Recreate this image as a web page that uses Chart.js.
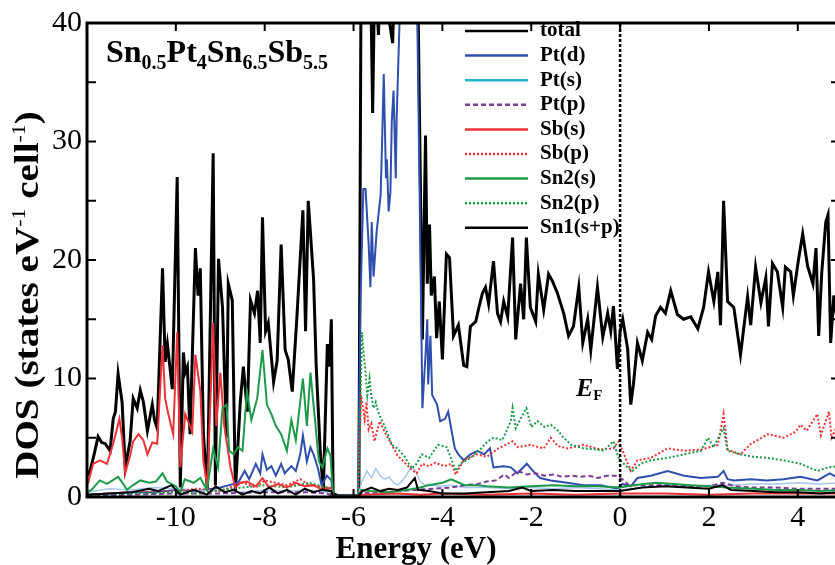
<!DOCTYPE html>
<html>
<head>
<meta charset="utf-8">
<title>DOS of Sn0.5Pt4Sn6.5Sb5.5</title>
<script src="https://cdn.jsdelivr.net/npm/chart.js@4.4.1/dist/chart.umd.min.js"></script>
<style>
  html, body { margin: 0; padding: 0; background: #fff; overflow: hidden; }
  #wrap { width: 835px; height: 565px; overflow: hidden; }
  canvas { display: block; }
</style>
</head>
<body>
<div id="wrap"><canvas id="dos" width="840" height="565"></canvas></div>
<script>
// Density of states, [energy (eV), states eV-1 cell-1]
const totalDos = [
  [-12.00,1.8],[-11.93,2.2],[-11.84,3.6],[-11.75,5.1],[-11.67,4.6],[-11.59,4.5],[-11.48,3.9],[-11.41,6.6],[-11.36,7.2],
  [-11.30,10.4],[-11.21,8.0],[-11.14,2.5],[-11.03,4.7],[-10.96,8.3],[-10.87,7.5],[-10.80,9.0],[-10.73,8.0],[-10.64,5.6],
  [-10.53,7.8],[-10.48,6.5],[-10.42,5.8],[-10.30,19.3],[-10.24,11.4],[-10.19,12.9],[-10.08,9.1],[-9.97,27.0],[-9.90,0.8],
  [-9.83,12.2],[-9.79,10.5],[-9.74,11.0],[-9.68,5.3],[-9.56,21.0],[-9.50,17.0],[-9.45,19.3],[-9.38,5.3],[-9.29,0.6],
  [-9.16,29.0],[-9.11,1.0],[-9.04,20.1],[-8.95,16.0],[-8.86,5.0],[-8.82,18.0],[-8.73,16.6],[-8.66,0.5],[-8.55,8.0],
  [-8.48,11.0],[-8.39,7.2],[-8.32,16.6],[-8.23,15.5],[-8.16,17.4],[-8.10,13.0],[-8.05,23.6],[-7.98,14.0],[-7.92,14.7],
  [-7.80,9.7],[-7.72,11.5],[-7.63,21.3],[-7.54,12.4],[-7.47,11.6],[-7.38,8.9],[-7.27,15.5],[-7.14,24.2],[-7.08,14.0],
  [-7.02,25.0],[-6.90,18.4],[-6.84,11.0],[-6.75,3.9],[-6.68,0.5],[-6.59,12.9],[-6.54,11.0],[-6.50,15.0],[-6.46,0.3],
  [-6.35,0.1],[-5.88,0.1],[-5.83,45],[-5.62,45],[-5.57,32.4],[-5.52,45],[-5.44,39.0],[-5.39,45],[-5.12,38.3],[-5.07,45],
  [-4.56,45],[-4.45,13.3],[-4.38,30.5],[-4.34,18.0],[-4.29,23.0],[-4.25,17.0],[-4.18,18.6],[-4.13,13.4],[-4.07,16.5],
  [-4.00,11.6],[-3.91,20.5],[-3.84,20.2],[-3.75,13.6],[-3.64,14.5],[-3.52,11.1],[-3.45,11.0],[-3.37,14.4],[-3.25,14.8],
  [-3.19,15.8],[-3.10,17.2],[-3.03,17.7],[-2.96,16.3],[-2.85,19.9],[-2.76,15.5],[-2.69,14.8],[-2.62,16.5],[-2.53,15.2],
  [-2.42,21.9],[-2.35,13.3],[-2.24,18.0],[-2.17,15.0],[-2.11,21.9],[-2.02,16.0],[-1.90,14.8],[-1.84,18.8],[-1.72,15.8],
  [-1.61,18.8],[-1.52,18.2],[-1.41,17.2],[-1.27,15.5],[-1.16,13.6],[-1.05,14.4],[-0.93,17.7],[-0.84,13.0],[-0.73,15.0],
  [-0.66,12.4],[-0.51,17.7],[-0.39,13.5],[-0.28,15.5],[-0.21,14.0],[-0.15,16.1],[-0.06,10.8],[0.00,14.0],[0.06,15.0],
  [0.17,12.5],[0.24,7.8],[0.30,9.5],[0.39,13.0],[0.50,11.5],[0.62,13.9],[0.71,13.3],[0.80,15.3],[0.91,16.0],[1.02,15.5],
  [1.14,17.4],[1.29,15.4],[1.43,15.0],[1.59,15.2],[1.75,14.2],[1.88,16.0],[1.99,19.0],[2.11,16.5],[2.20,19.0],[2.26,14.5],
  [2.33,25.0],[2.42,16.5],[2.56,16.0],[2.71,12.0],[2.87,16.9],[2.94,14.5],[3.05,19.4],[3.17,16.4],[3.28,18.5],[3.34,14.4],
  [3.43,19.7],[3.54,19.0],[3.66,16.0],[3.72,19.4],[3.84,19.0],[3.90,17.0],[4.01,19.9],[4.11,22.2],[4.22,19.5],[4.34,18.0],
  [4.41,21.0],[4.47,13.6],[4.54,19.0],[4.63,23.2],[4.68,23.8],[4.74,13.0],[4.81,17.0],[4.88,15.0],[4.95,16.0]
];
const ptD = [
  [-12.0,0.2],[-11.5,0.3],[-11.0,0.4],[-10.5,0.4],[-10.0,0.6],[-9.5,0.5],[-9.0,0.8],[-8.8,1.0],[-8.6,1.2],[-8.45,2.2],
  [-8.35,1.5],[-8.2,2.8],[-8.1,2.0],[-8.05,3.6],[-7.95,2.3],[-7.85,2.6],[-7.75,1.8],[-7.63,2.8],[-7.55,2.0],[-7.4,2.6],
  [-7.3,2.2],[-7.2,3.6],[-7.14,5.2],[-7.05,3.0],[-6.97,4.2],[-6.9,3.6],[-6.8,2.4],[-6.72,1.0],[-6.6,1.8],[-6.5,1.4],
  [-6.46,0.1],[-5.90,0.1],[-5.84,17.0],[-5.78,26.0],[-5.73,26.0],[-5.66,21.3],[-5.62,17.7],[-5.59,23.2],[-5.55,18.6],
  [-5.48,22.4],[-5.39,25.5],[-5.36,29.6],[-5.32,35.7],[-5.27,26.9],[-5.25,28.5],[-5.21,24.1],[-5.17,25.7],[-5.14,31.6],
  [-5.10,34.3],[-5.05,26.9],[-5.03,31.9],[-4.95,42],[-4.58,45],[-4.45,7.5],[-4.38,12.0],[-4.34,15.0],[-4.32,9.5],
  [-4.27,13.6],[-4.23,8.6],[-4.12,7.8],[-4.05,6.4],[-3.94,6.6],[-3.87,7.2],[-3.78,5.3],[-3.72,4.1],[-3.64,3.6],
  [-3.52,3.1],[-3.37,3.6],[-3.21,3.9],[-3.06,3.6],[-2.93,4.1],[-2.85,2.5],[-2.62,2.6],[-2.46,2.5],[-2.31,2.0],[-2.10,2.8],
  [-1.96,2.2],[-1.80,1.6],[-1.56,1.4],[-1.19,1.2],[-0.82,1.0],[-0.44,1.0],[-0.06,0.7],[0.05,1.1],[0.24,0.9],[0.39,1.6],
  [0.69,1.8],[1.07,2.2],[1.44,1.8],[1.82,1.6],[2.20,1.7],[2.33,2.2],[2.42,1.5],[2.56,1.4],[2.95,1.5],[3.30,1.4],
  [3.68,1.5],[4.06,1.7],[4.44,1.4],[4.72,2.0],[4.95,1.5]
];
const ptS = [
  [-12.0,0.4],[-11.5,0.7],[-11.0,0.6],[-10.5,0.8],[-10.0,0.7],[-9.5,0.6],[-9.0,0.5],[-8.5,0.4],[-8.0,0.6],[-7.5,0.5],
  [-7.0,0.6],[-6.6,0.4],[-6.46,0.05],[-5.90,0.05],[-5.82,1.2],[-5.7,2.2],[-5.6,1.6],[-5.5,2.4],[-5.4,1.8],[-5.3,1.5],
  [-5.2,1.7],[-5.1,1.2],[-5.0,1.0],[-4.9,1.4],[-4.8,1.9],[-4.7,2.6],[-4.6,2.2],[-4.5,1.3],[-4.4,1.0],[-4.3,1.1],
  [-4.1,0.9],[-3.8,1.0],[-3.5,0.8],[-3.0,0.8],[-2.5,0.7],[-2.0,0.8],[-1.5,0.7],[-1.0,0.8],[-0.5,0.7],[0.0,0.6],
  [0.5,0.8],[1.0,0.9],[1.5,0.9],[2.0,1.0],[2.5,1.0],[3.0,1.1],[3.5,1.1],[4.0,1.2],[4.5,1.1],[4.95,1.2]
];
const ptP = [
  [-12.0,0.1],[-11.0,0.2],[-10.0,0.3],[-9.0,0.3],[-8.0,0.4],[-7.0,0.4],[-6.6,0.3],[-6.46,0.05],[-5.90,0.05],[-5.8,0.4],
  [-5.6,0.3],[-5.0,0.5],[-4.6,0.6],[-4.2,0.7],[-3.8,0.8],[-3.5,1.0],[-3.2,1.1],[-3.0,1.3],[-2.8,1.4],[-2.6,1.9],
  [-2.5,1.6],[-2.3,2.2],[-2.1,1.9],[-1.9,2.0],[-1.7,1.8],[-1.5,1.9],[-1.3,1.7],[-1.1,1.8],[-0.9,1.7],[-0.7,1.8],
  [-0.5,1.6],[-0.3,1.8],[-0.1,1.8],[0.05,1.5],[0.2,1.0],[0.5,1.0],[1.0,1.0],[1.5,0.9],[2.0,0.9],[2.3,1.2],[2.6,0.9],
  [3.0,0.8],[3.5,0.8],[4.0,0.7],[4.5,0.7],[4.95,0.7]
];
const sbS = [
  [-11.98,1.1],[-11.86,2.8],[-11.71,3.1],[-11.55,2.8],[-11.41,4.5],[-11.27,6.6],[-11.21,5.0],[-11.14,2.0],[-11.03,3.5],
  [-10.96,4.7],[-10.84,5.3],[-10.73,4.8],[-10.64,3.6],[-10.53,4.6],[-10.42,4.5],[-10.30,12.8],[-10.24,8.3],[-10.17,7.0],
  [-10.06,5.3],[-9.97,13.9],[-9.90,2.5],[-9.79,7.0],[-9.63,5.5],[-9.56,12.0],[-9.45,9.0],[-9.38,3.0],[-9.29,0.8],
  [-9.16,14.7],[-9.09,6.0],[-9.00,10.5],[-8.91,6.0],[-8.77,2.5],[-8.66,0.8],[-8.55,1.2],[-8.4,1.3],[-8.2,0.9],
  [-8.05,1.6],[-7.9,0.8],[-7.7,1.1],[-7.5,0.8],[-7.3,1.2],[-7.1,0.9],[-6.9,1.0],[-6.7,0.6],[-6.5,0.8],[-6.46,0.05],
  [-5.90,0.05],[-5.8,0.2],[-5.0,0.3],[-4.5,0.2],[-4.0,0.3],[-3.0,0.2],[-2.0,0.3],[-1.0,0.2],[0.0,0.3],[1.0,0.3],
  [2.0,0.2],[3.0,0.3],[4.0,0.3],[4.95,0.3]
];
const sbP = [
  [-12.0,0.2],[-11.0,0.4],[-10.0,0.5],[-9.5,0.7],[-9.0,0.5],[-8.5,1.2],[-8.2,0.8],[-8.0,1.4],[-7.5,1.0],[-7.2,1.5],
  [-7.0,1.0],[-6.6,0.8],[-6.46,0.05],[-5.90,0.05],[-5.83,8.6],[-5.75,6.6],[-5.71,8.0],[-5.66,5.7],[-5.60,6.2],
  [-5.53,4.7],[-5.41,6.4],[-5.30,5.5],[-5.14,4.4],[-5.01,3.5],[-4.85,2.9],[-4.69,2.3],[-4.58,2.0],[-4.46,2.8],
  [-4.30,2.6],[-4.16,2.9],[-3.95,2.6],[-3.80,2.8],[-3.70,1.9],[-3.52,3.1],[-3.23,3.6],[-3.00,3.4],[-2.74,4.1],
  [-2.42,4.7],[-2.30,4.2],[-2.02,4.4],[-1.72,4.1],[-1.56,5.0],[-1.40,4.3],[-1.18,4.1],[-0.82,4.4],[-0.44,4.0],
  [-0.15,4.1],[-0.03,4.7],[0.10,3.5],[0.24,2.2],[0.39,3.1],[0.69,3.3],[1.07,4.1],[1.44,3.9],[1.82,4.0],[2.20,4.4],
  [2.33,7.0],[2.42,4.0],[2.71,3.6],[2.95,4.5],[3.32,5.3],[3.68,5.0],[3.95,5.5],[4.06,6.1],[4.20,5.6],[4.44,7.0],
  [4.52,5.2],[4.70,7.2],[4.76,5.0],[4.95,6.5]
];
const sn2S = [
  [-12.0,0.4],[-11.9,0.6],[-11.71,1.4],[-11.55,1.1],[-11.3,1.7],[-11.2,1.2],[-11.1,0.6],[-11.0,0.9],[-10.8,1.4],
  [-10.6,1.2],[-10.45,1.3],[-10.3,2.0],[-10.2,1.3],[-10.0,0.9],[-9.9,0.3],[-9.8,1.5],[-9.6,1.2],[-9.45,1.6],[-9.3,0.6],
  [-9.16,4.1],[-9.05,2.5],[-8.95,7.5],[-8.86,7.8],[-8.80,3.9],[-8.7,3.6],[-8.6,4.2],[-8.5,3.9],[-8.4,8.9],[-8.3,6.5],
  [-8.17,8.3],[-8.05,12.4],[-7.95,7.8],[-7.85,7.0],[-7.75,6.0],[-7.63,5.3],[-7.5,3.9],[-7.4,6.5],[-7.3,4.8],
  [-7.14,10.0],[-7.05,6.0],[-6.97,10.5],[-6.88,7.0],[-6.78,3.0],[-6.70,2.5],[-6.59,4.1],[-6.52,3.5],[-6.46,0.05],
  [-5.90,0.05],[-5.82,0.6],[-5.6,0.5],[-5.2,0.4],[-4.8,0.6],[-4.5,0.8],[-4.3,1.0],[-4.0,1.2],[-3.8,1.5],[-3.5,1.0],
  [-3.2,1.0],[-3.0,0.9],[-2.5,0.8],[-2.0,0.9],[-1.5,1.0],[-1.0,0.9],[-0.5,0.9],[0.0,0.8],[0.3,1.0],[0.8,1.2],
  [1.2,1.1],[1.6,1.0],[2.0,0.9],[2.4,0.8],[3.0,0.7],[3.5,0.6],[4.0,0.6],[4.5,0.5],[4.95,0.6]
];
const sn2P = [
  [-12.0,0.2],[-11.0,0.3],[-10.0,0.4],[-9.5,0.3],[-9.0,0.6],[-8.5,0.8],[-8.0,1.0],[-7.5,0.8],[-7.0,1.2],[-6.6,0.8],
  [-6.46,0.05],[-5.90,0.05],[-5.84,9.0],[-5.81,13.9],[-5.77,12.0],[-5.73,10.5],[-5.69,8.6],[-5.64,10.0],[-5.60,8.5],
  [-5.55,7.5],[-5.50,8.0],[-5.45,7.2],[-5.38,6.6],[-5.30,6.0],[-5.14,4.4],[-5.01,4.1],[-4.85,3.4],[-4.69,2.4],
  [-4.58,2.8],[-4.46,3.6],[-4.30,3.3],[-4.10,4.4],[-3.90,4.2],[-3.84,3.6],[-3.70,2.2],[-3.60,2.8],[-3.37,3.3],
  [-3.13,4.1],[-2.98,4.7],[-2.85,5.0],[-2.65,4.8],[-2.46,6.4],[-2.42,7.5],[-2.35,5.8],[-2.20,6.9],[-2.11,7.5],
  [-2.00,5.9],[-1.86,6.4],[-1.70,5.9],[-1.56,6.1],[-1.40,5.6],[-1.27,5.0],[-1.10,4.4],[-0.82,4.1],[-0.50,4.0],
  [-0.37,3.9],[-0.15,4.7],[-0.06,3.6],[0.00,3.1],[0.17,2.5],[0.28,2.2],[0.46,2.8],[0.69,3.1],[1.07,3.3],[1.44,3.6],
  [1.82,3.9],[1.98,5.0],[2.10,4.2],[2.33,5.8],[2.42,3.9],[2.71,3.6],[3.00,3.4],[3.32,3.3],[3.68,3.1],[4.06,2.8],
  [4.44,2.2],[4.68,2.5],[4.95,2.6]
];
const sn1SP = [
  [-12.0,0.2],[-11.5,0.3],[-11.0,0.4],[-10.6,0.7],[-10.4,0.5],[-10.1,1.0],[-9.9,0.2],[-9.6,0.6],[-9.3,0.2],[-9.1,0.9],
  [-8.9,0.4],[-8.7,0.6],[-8.5,0.2],[-8.3,0.5],[-8.1,0.3],[-7.9,0.8],[-7.7,0.3],[-7.5,0.6],[-7.3,0.2],[-7.1,0.7],
  [-6.9,0.4],[-6.7,0.6],[-6.5,0.5],[-6.46,0.05],[-5.90,0.05],[-5.8,0.5],[-5.6,0.8],[-5.4,0.5],[-5.2,0.7],[-5.0,0.6],
  [-4.8,0.8],[-4.62,1.6],[-4.55,0.6],[-4.3,0.5],[-4.0,0.3],[-3.5,0.3],[-3.0,0.4],[-2.5,0.5],[-2.2,0.8],[-2.0,0.5],
  [-1.5,0.6],[-1.0,0.5],[-0.5,0.5],[0.0,0.5],[0.5,0.8],[1.0,0.9],[1.5,0.8],[2.0,0.7],[2.3,1.0],[2.5,0.6],[3.0,0.5],
  [3.5,0.4],[4.0,0.4],[4.5,0.3],[4.95,0.4]
];
const fermiLine = [[0, 0], [0, 40]];

const xTickValues = [-10, -8, -6, -4, -2, 0, 2, 4];
const yTickValues = [0, 10, 20, 30, 40];
const yTickMarks = [5, 10, 15, 20, 25, 30, 35];

const SERIF = "'Liberation Serif', 'Times New Roman', serif";
const pts = arr => arr.map(([e, d]) => ({ x: e, y: d }));

function series(label, data, color, width, dash, order, extra) {
  return Object.assign({
    label, data: pts(data), borderColor: color, borderWidth: width,
    borderDash: dash || [], pointRadius: 0, tension: 0, order, fill: false
  }, extra || {});
}

// draws a run of text pieces with their own size/offset (sub- and superscripts)
function drawRuns(ctx, runs, x, y) {
  let cx = x;
  runs.forEach(r => {
    ctx.font = `${r.font} ${r.size}px ${SERIF}`;
    ctx.fillText(r.text, cx, y + (r.dy || 0));
    cx += ctx.measureText(r.text).width;
  });
  return cx - x;
}
function runsWidth(ctx, runs) {
  return runs.reduce((w, r) => {
    ctx.font = `${r.font} ${r.size}px ${SERIF}`;
    return w + ctx.measureText(r.text).width;
  }, 0);
}

const decorations = {
  id: 'decorations',
  afterDatasetsDraw(chart) {
    const { ctx, chartArea: a, scales: { x, y } } = chart;
    ctx.save();
    ctx.strokeStyle = '#000';
    ctx.fillStyle = '#000';

    // frame + inward ticks
    ctx.lineWidth = 3;
    ctx.strokeRect(a.left, a.top, a.right - a.left, a.bottom - a.top);
    ctx.lineWidth = 2;
    ctx.beginPath();
    xTickValues.forEach(v => {
      const px = x.getPixelForValue(v);
      ctx.moveTo(px, a.top); ctx.lineTo(px, a.top + 8);
      ctx.moveTo(px, a.bottom); ctx.lineTo(px, a.bottom - 8);
    });
    yTickMarks.forEach(v => {
      const py = y.getPixelForValue(v);
      ctx.moveTo(a.left, py); ctx.lineTo(a.left + 9, py);
      ctx.moveTo(a.right, py); ctx.lineTo(a.right - 9, py);
    });
    ctx.stroke();

    // axis titles
    ctx.textBaseline = 'alphabetic';
    ctx.textAlign = 'left';
    ctx.font = `bold 31px ${SERIF}`;
    const xt = 'Energy (eV)';
    ctx.fillText(xt, 416 - ctx.measureText(xt).width / 2, 558);

    const yRuns = [
      { text: 'DOS (states eV', font: 'bold', size: 34 },
      { text: '-1', font: 'normal', size: 19, dy: -13 },
      { text: ' cell', font: 'bold', size: 34 },
      { text: '-1', font: 'normal', size: 19, dy: -13 },
      { text: ')', font: 'bold', size: 34 }
    ];
    ctx.save();
    ctx.translate(38, 295);
    ctx.rotate(-Math.PI / 2);
    ctx.scale(1.15, 1);
    drawRuns(ctx, yRuns, -runsWidth(ctx, yRuns) / 2, 0);
    ctx.restore();

    // compound name
    drawRuns(ctx, [
      { text: 'Sn', font: 'bold', size: 32 }, { text: '0.5', font: 'bold', size: 20, dy: 7 },
      { text: 'Pt', font: 'bold', size: 32 }, { text: '4', font: 'bold', size: 20, dy: 7 },
      { text: 'Sn', font: 'bold', size: 32 }, { text: '6.5', font: 'bold', size: 20, dy: 7 },
      { text: 'Sb', font: 'bold', size: 32 }, { text: '5.5', font: 'bold', size: 20, dy: 7 }
    ], 106, 62);

    // Fermi level label
    drawRuns(ctx, [
      { text: 'E', font: 'italic bold', size: 26 },
      { text: 'F', font: 'bold', size: 15, dy: 4 }
    ], 576, 396);

    // legend
    ctx.textBaseline = 'middle';
    chart.data.datasets.filter(d => d.label).forEach((d, i) => {
      const ly = 31 + i * 24.6;
      ctx.beginPath();
      ctx.setLineDash(d.borderDash || []);
      ctx.strokeStyle = d.legendColor || d.borderColor;
      ctx.lineWidth = 2.5;
      ctx.moveTo(465, ly); ctx.lineTo(528, ly);
      ctx.stroke();
      ctx.setLineDash([]);
      ctx.font = `bold 21px ${SERIF}`;
      ctx.fillText(d.label, 540, ly);
    });
    ctx.restore();
  }
};

new Chart(document.getElementById('dos'), {
  type: 'line',
  data: {
    datasets: [
      series('total', totalDos, '#000000', 3, null, 9),
      series('Pt(d)', ptD, '#2f4fae', 2, null, 8),
      series('Pt(s)', ptS, '#a9c8ee', 1.5, null, 7, { legendColor: '#22b4c8' }),
      series('Pt(p)', ptP, '#7b3b98', 2, [5, 3], 6),
      series('Sb(s)', sbS, '#ec3237', 2, null, 3),
      series('Sb(p)', sbP, '#ec3237', 2, [2, 2], 5),
      series('Sn2(s)', sn2S, '#1c9a48', 2, null, 2),
      series('Sn2(p)', sn2P, '#1c9a48', 2, [2, 2], 4),
      series('Sn1(s+p)', sn1SP, '#000000', 2, null, 1),
      series('', fermiLine, '#000000', 2.5, [3, 2], 0)
    ]
  },
  options: {
    responsive: false,
    animation: false,
    events: [],
    layout: { padding: { top: 15, right: 0, bottom: 0, left: 0 } },
    plugins: { legend: { display: false }, tooltip: { enabled: false } },
    scales: {
      x: {
        type: 'linear', min: -12, max: 4.95,
        afterFit(s) { s.height = 68; },
        afterBuildTicks(s) { s.ticks = xTickValues.map(v => ({ value: v })); },
        grid: { display: false, drawTicks: false },
        border: { display: false },
        ticks: { autoSkip: false, maxRotation: 0, padding: 3, color: '#000', font: { family: SERIF, size: 30 } }
      },
      y: {
        type: 'linear', min: 0, max: 40,
        afterFit(s) { s.width = 87; },
        afterBuildTicks(s) { s.ticks = yTickValues.map(v => ({ value: v })); },
        grid: { display: false, drawTicks: false },
        border: { display: false },
        ticks: { padding: 5, color: '#000', font: { family: SERIF, size: 30 } }
      }
    }
  },
  plugins: [decorations]
});
</script>
</body>
</html>
